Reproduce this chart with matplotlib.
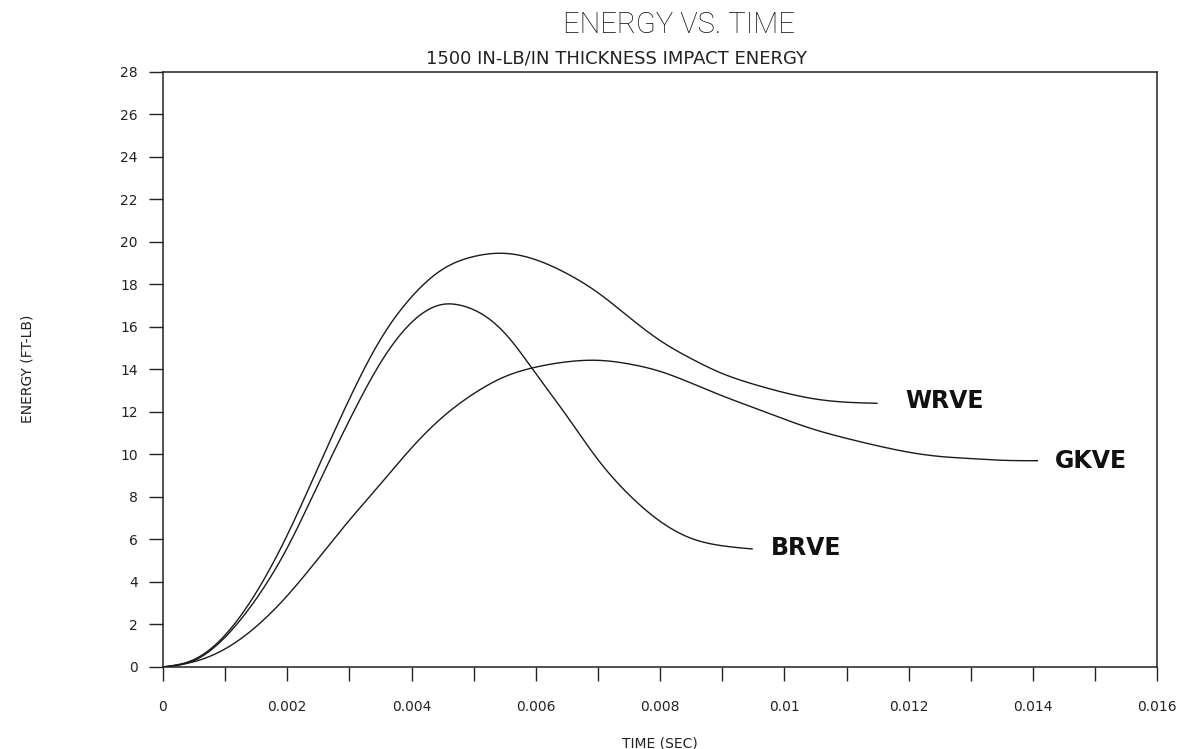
import numpy as np
import matplotlib
matplotlib.use("Agg")
from matplotlib import pyplot as plt

# values (time in sec, energy in ft-lb)
wrve_t = [0, 0.0005, 0.001, 0.0015, 0.002, 0.0025, 0.003, 0.0035, 0.004, 0.0045, 0.005,
          0.0055, 0.006, 0.0065, 0.007, 0.0075, 0.008, 0.0085, 0.009, 0.0095, 0.01,
          0.0105, 0.011, 0.01149]
wrve_e = [0, 0.35, 1.5, 3.5, 6.2, 9.4, 12.6, 15.4, 17.4, 18.7, 19.3,
          19.45, 19.15, 18.5, 17.6, 16.45, 15.35, 14.5, 13.8, 13.3, 12.9,
          12.6, 12.45, 12.4]

brve_t = [0, 0.0005, 0.001, 0.0015, 0.002, 0.0025, 0.003, 0.0035, 0.004, 0.0045, 0.0048,
          0.005, 0.0055, 0.006, 0.0065, 0.007, 0.0075, 0.008, 0.0085, 0.009, 0.00948]
brve_e = [0, 0.3, 1.4, 3.2, 5.6, 8.6, 11.6, 14.3, 16.2, 17.05, 17.0,
          16.8, 15.7, 13.8, 11.8, 9.75, 8.1, 6.85, 6.05, 5.7, 5.55]

gkve_t = [0, 0.0005, 0.001, 0.0015, 0.002, 0.0025, 0.003, 0.0035, 0.004, 0.0045, 0.005,
          0.0055, 0.006, 0.0065, 0.007, 0.0075, 0.008, 0.0085, 0.009, 0.0095, 0.01,
          0.0105, 0.011, 0.0115, 0.012, 0.0125, 0.013, 0.0135, 0.01407]
gkve_e = [0, 0.25, 0.85, 1.9, 3.35, 5.1, 6.9, 8.6, 10.3, 11.75, 12.85,
          13.65, 14.1, 14.35, 14.42, 14.25, 13.9, 13.35, 12.75, 12.2, 11.65,
          11.15, 10.75, 10.4, 10.1, 9.9, 9.8, 9.72, 9.7]

series = [("WRVE", wrve_t, wrve_e, 0.01195, 12.5),
          ("BRVE", brve_t, brve_e, 0.00978, 5.6),
          ("GKVE", gkve_t, gkve_e, 0.01436, 9.7)]

x_ticks = [0, 0.002, 0.004, 0.006, 0.008, 0.01, 0.012, 0.014, 0.016]
x_tick_labels = ["0", "0.002", "0.004", "0.006", "0.008", "0.01", "0.012", "0.014", "0.016"]
y_ticks = list(range(0, 29, 2))


def smooth(t, e, n=400):
    # natural cubic spline through the read points
    t = np.asarray(t, float)
    e = np.asarray(e, float)
    k = len(t)
    h = np.diff(t)
    A = np.zeros((k, k))
    b = np.zeros(k)
    A[0, 0] = A[-1, -1] = 1
    for i in range(1, k - 1):
        A[i, i - 1] = h[i - 1]
        A[i, i] = 2 * (h[i - 1] + h[i])
        A[i, i + 1] = h[i]
        b[i] = 6 * ((e[i + 1] - e[i]) / h[i] - (e[i] - e[i - 1]) / h[i - 1])
    M = np.linalg.solve(A, b)
    tt = np.linspace(t[0], t[-1], n)
    idx = np.clip(np.searchsorted(t, tt) - 1, 0, k - 2)
    a = t[idx + 1] - tt
    c = tt - t[idx]
    hi = h[idx]
    ee = (M[idx] * a**3 / (6 * hi) + M[idx + 1] * c**3 / (6 * hi)
          + (e[idx] / hi - M[idx] * hi / 6) * a + (e[idx + 1] / hi - M[idx + 1] * hi / 6) * c)
    return tt, ee


fig = plt.figure(figsize=(11.98, 7.49), dpi=100)
ax = fig.add_axes([0.136, 0.1095, 0.830, 0.795])

for name, t, e, lx, ly in series:
    tt, ee = smooth(t, e)
    ax.plot(tt, ee, color="#1a1a1a", lw=1.0)
    ax.text(lx, ly, name, fontsize=17, fontweight="bold", ha="left", va="center",
            family="DejaVu Sans", color="#111111")

ax.set_xlim(0, 0.016)
ax.set_ylim(0, 28)
ax.set_xticks(x_ticks)
ax.set_xticklabels(x_tick_labels)
ax.set_xticks(np.arange(0, 0.0161, 0.001), minor=True)
ax.set_yticks(y_ticks)
ax.tick_params(axis="both", which="both", direction="out", length=10, width=1,
               labelsize=10, colors="#222222")
ax.tick_params(axis="x", pad=14)
ax.tick_params(axis="y", pad=8)
for sp in ax.spines.values():
    sp.set_linewidth(1.1)
    sp.set_color("#222222")

ax.set_xlabel("TIME (SEC)", fontsize=10, labelpad=16, color="#222222")
ax.set_ylabel("ENERGY (FT-LB)", fontsize=10, labelpad=62, color="#222222")

fig.text(0.567, 0.966, "ENERGY VS. TIME", fontsize=21, family="Roboto", fontweight="light",
         ha="center", va="center", color="#111111")
fig.text(0.515, 0.922, "1500 IN-LB/IN THICKNESS IMPACT ENERGY", fontsize=13,
         family="DejaVu Sans", ha="center", va="center", color="#222222")

fig.savefig("out.png", dpi=100)
